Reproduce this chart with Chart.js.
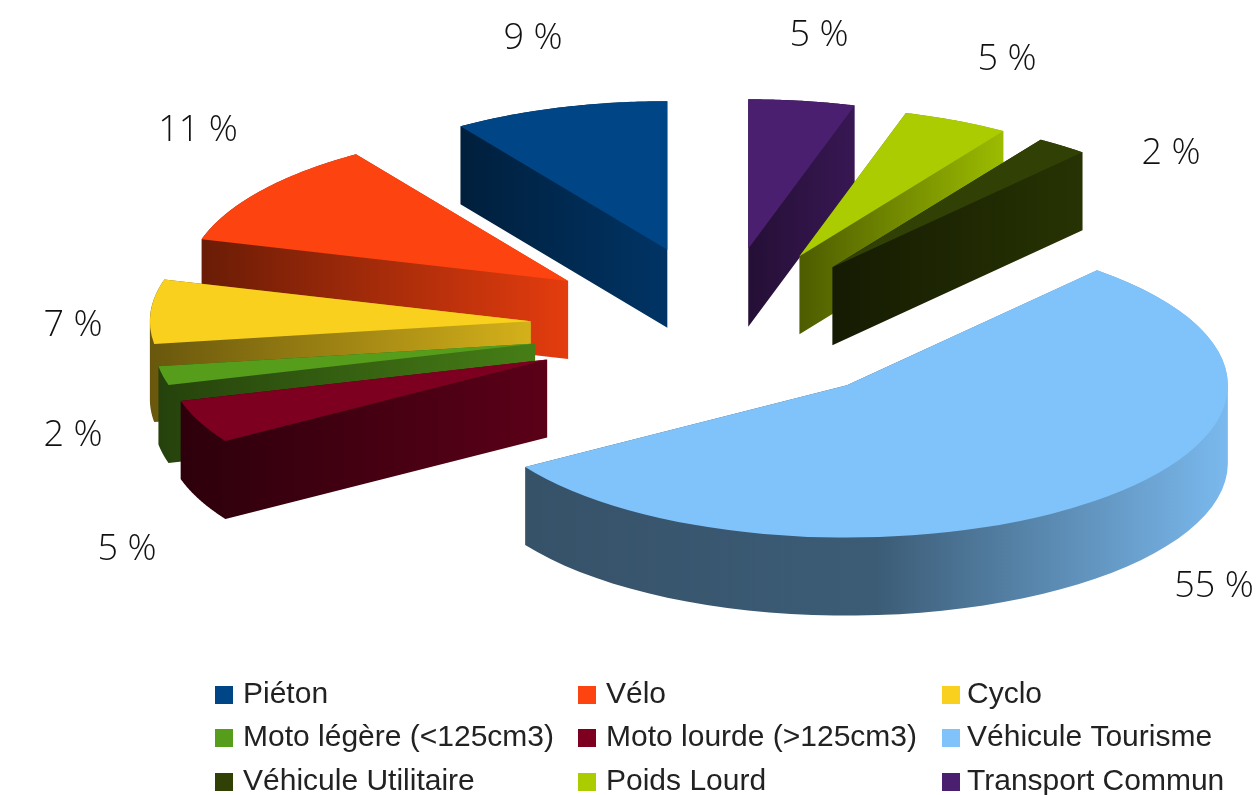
<!DOCTYPE html>
<html lang="fr">
<head>
<meta charset="utf-8">
<title>Répartition</title>
<style>
html,body{margin:0;padding:0;background:#fff;overflow:hidden}
canvas{display:block;filter:blur(0.5px)}
</style>
<script src="https://cdn.jsdelivr.net/npm/chart.js@4/dist/chart.umd.min.js"></script>
</head>
<body>
<canvas id="c" width="1259" height="795"></canvas>
<script>
const categories = ['Piéton','Vélo','Cyclo','Moto légère (<125cm3)','Moto lourde (>125cm3)','Véhicule Tourisme','Véhicule Utilitaire','Poids Lourd','Transport Commun'];
const shares = [9.4, 11.2, 6.8, 2.0, 4.6, 54.6, 2.2, 4.6, 4.6];
const colours = ['#004586','#fd430f','#f9d01e','#579d1c','#7e0021','#80c3fa','#314004','#aacc00','#4b1f6f'];

// presentation only
const explode = [0.475,0.47,0.50,0.51,0.52,0.547,0.45,0.44,0.46];
const nudge = [[0,0],[-7,4],[1,7],[5,8],[8,8],[-9,3],[9,3],[9,-2],[3,-1]];
const perspective = [.975,1,1,1,1,1,1,.98,.98];
const wallShade = [[.45,.75],[.42,.9],[.42,.85],[.42,.8],[.36,.72],[.42,.47,.95],[.42,.8],[.45,.92],[.48,.75]];
const labelAt = [[533,39],[198,131],[73,326],[73,436],[127,550],[1214,587],[1171,154],[1007,60],[819,36]];
const legendSwatchX = [215,578,942], legendTextX = [243,606,967], legendRows = [694,737,781];
const CX = 720, CY = 319, SQUASH = 0.4, DEPTH = 78;

function shade(hex, f){
  const n = parseInt(hex.slice(1),16);
  return `rgb(${Math.round((n>>16&255)*f)},${Math.round((n>>8&255)*f)},${Math.round((n&255)*f)})`;
}
function area(q){
  let s=0;
  q.forEach((p,i)=>{const r=q[(i+1)%q.length]; s+=p[0]*r[1]-r[0]*p[1];});
  return s;
}
function addPoly(ctx,q){
  const o = area(q)<0 ? [...q].reverse() : q;
  o.forEach((p,k)=>k?ctx.lineTo(p[0],p[1]):ctx.moveTo(p[0],p[1]));
  ctx.closePath();
}

const pie3d = {
  id:'pie3d',
  beforeDatasetDraw(chart){
    const ctx = chart.ctx, arcs = chart.getDatasetMeta(0).data;
    const geo = arcs.map((a,i)=>{
      const mid = (a.startAngle+a.endAngle)/2, off = explode[i]*a.outerRadius, s = perspective[i];
      const ax = CX+nudge[i][0]-off*Math.cos(mid), ay = CY+nudge[i][1]+SQUASH*off*Math.sin(mid);
      const r = a.outerRadius*s;
      const pts = [[ax,ay]];
      for(let k=0;k<=60;k++){
        const t = a.startAngle+(a.endAngle-a.startAngle)*k/60;
        pts.push([ax-r*Math.cos(t), ay+SQUASH*r*Math.sin(t)]);
      }
      return {i,ax,ay,s,pts};
    });
    // extruded walls, furthest slice first
    [...geo].sort((p,q)=>p.ay-q.ay).forEach(g=>{
      const xs = g.pts.map(p=>p[0]), x0 = Math.min(...xs), x1 = Math.max(...xs);
      const grad = ctx.createLinearGradient(x0,0,x1,0), st = wallShade[g.i];
      st.forEach((f,k)=>grad.addColorStop(k/(st.length-1), shade(colours[g.i],f)));
      ctx.fillStyle = grad;
      ctx.beginPath();
      const n = g.pts.length;
      addPoly(ctx,g.pts.map(p=>[p[0],p[1]+DEPTH]));
      g.pts.forEach((p,k)=>{
        const r = g.pts[(k+1)%n];
        addPoly(ctx,[p,r,[r[0],r[1]+DEPTH],[p[0],p[1]+DEPTH]]);
      });
      ctx.fill();
    });
    // top faces: the library's own arcs, squashed, mirrored and exploded
    geo.forEach(g=>{
      ctx.save();
      ctx.translate(g.ax,g.ay);
      ctx.scale(-g.s,SQUASH*g.s);
      ctx.translate(-arcs[g.i].x,-arcs[g.i].y);
      arcs[g.i].draw(ctx);
      ctx.restore();
    });
    return false;
  },
  afterDraw(chart){
    const ctx = chart.ctx;
    ctx.save();
    ctx.textBaseline='middle';
    ctx.textAlign='center';
    ctx.fillStyle='#111';
    ctx.font='300 36px "Open Sans"';
    shares.forEach((v,i)=>ctx.fillText(Math.round(v)+' %',labelAt[i][0],labelAt[i][1]));
    ctx.textAlign='left';
    ctx.font='30px "Liberation Sans"';
    categories.forEach((c,i)=>{
      const col=i%3, y=legendRows[Math.floor(i/3)];
      ctx.fillStyle=colours[i];
      ctx.fillRect(legendSwatchX[col],y-8,18,18);
      ctx.fillStyle='#222';
      ctx.fillText(c,legendTextX[col],y+1);
    });
    ctx.restore();
  }
};

new Chart(document.getElementById('c'),{
  type:'pie',
  data:{labels:categories,datasets:[{data:shares,backgroundColor:colours,borderWidth:0,radius:381}]},
  options:{
    responsive:false,animation:false,
    plugins:{legend:{display:false},tooltip:{enabled:false}}
  },
  plugins:[pie3d]
});
</script>
</body>
</html>
